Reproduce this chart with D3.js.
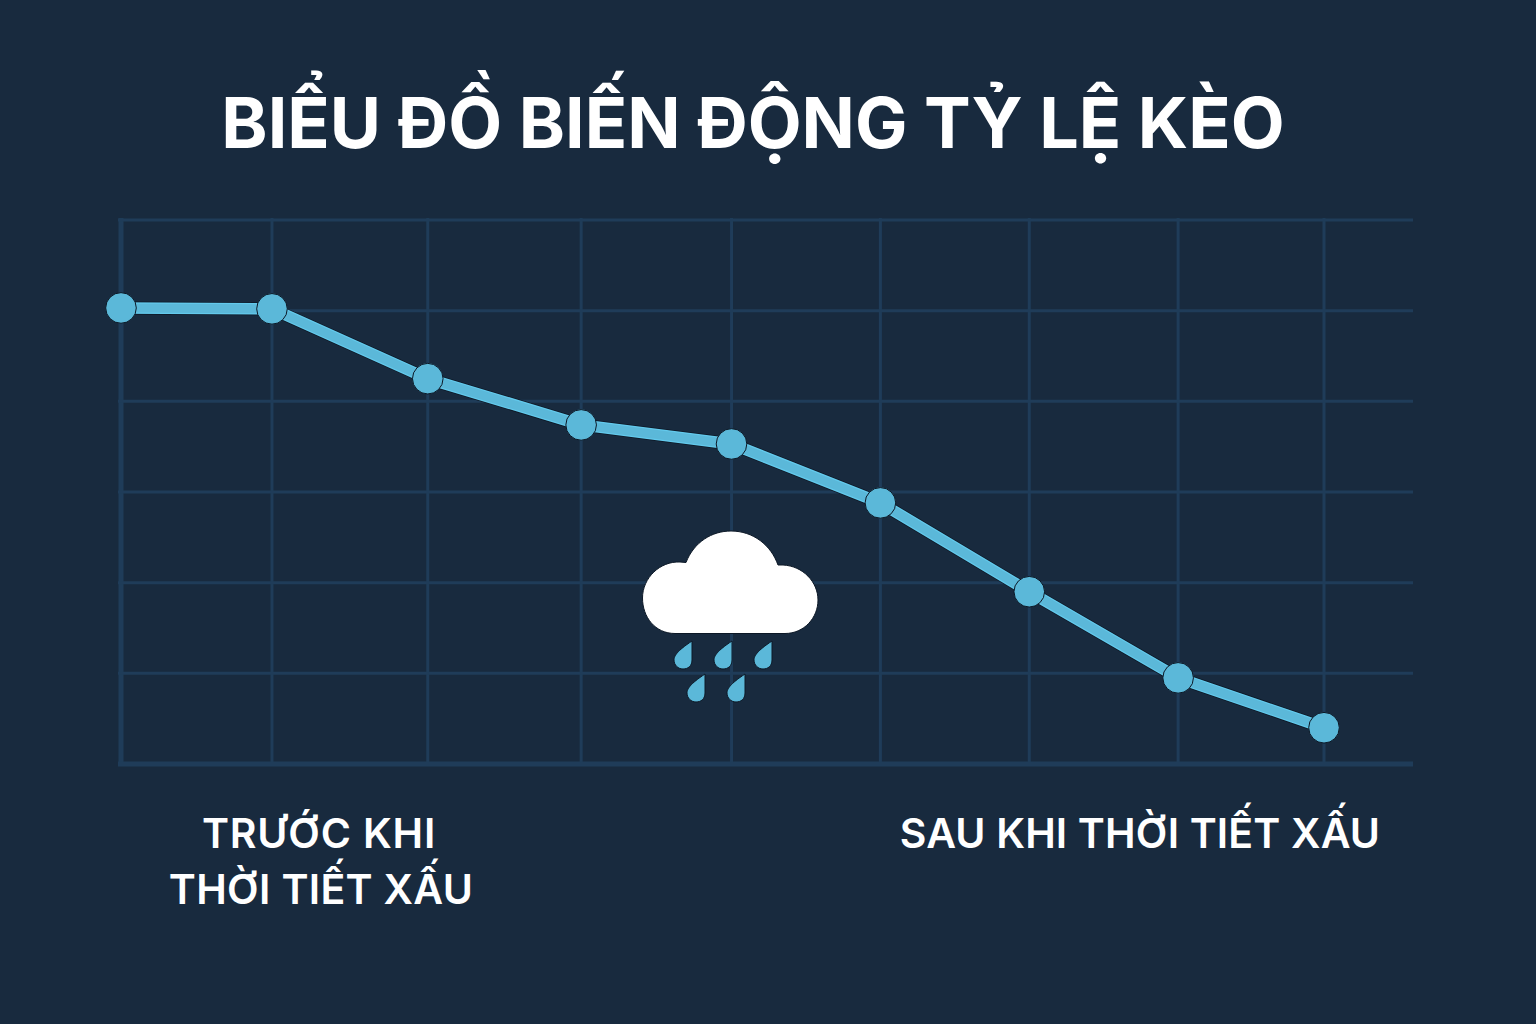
<!DOCTYPE html>
<html>
<head>
<meta charset="utf-8">
<script src="https://cdn.jsdelivr.net/npm/d3@7"></script>
<style>
html, body { margin: 0; background: #182a3e; }
svg { display: block; }
text { font-family: Inter, "Noto Sans", sans-serif; fill: #fff; }
</style>
</head>
<body>
<script>
const w = 1536, h = 1024

const title = "BIỂU ĐỒ BIẾN ĐỘNG TỶ LỆ KÈO"
const beforeLabel = ["TRƯỚC KHI", "THỜI TIẾT XẤU"]
const afterLabel = ["SAU KHI THỜI TIẾT XẤU"]

// the vertical grid is not quite even
const steps = [0, 1.004, 2.04, 3.06, 4.06, 5.05, 6.04, 7.03, 8]
const odds = [5.03, 5.02, 4.25, 3.74, 3.53, 2.88, 1.90, 0.95, 0.40]
const levels = [0, 1, 2, 3, 4, 5, 6]

const bg = "#182a3e", gridC = "#1f3c59", lineC = "#5bb8d9", edgeC = "#63c9ec", darkC = "#0c1826"

const x = d3.scaleLinear().domain([0, 8]).range([121, 1324])
const y = d3.scaleLinear().domain([0, 6]).range([764, 220])

const svg = d3.select("body").append("svg").attr("width", w).attr("height", h)
svg.append("rect").attr("width", w).attr("height", h).attr("fill", bg)

// grid
const grid = svg.append("g").attr("stroke", gridC).attr("fill", "none")
grid.selectAll("line.v").data(steps).join("line").attr("class", "v")
    .attr("x1", d => x(d)).attr("x2", d => x(d))
    .attr("y1", y(6) - 2).attr("y2", y(0))
    .attr("stroke-width", (d, i) => i === 0 ? 5 : 3)
grid.selectAll("line.h").data(levels).join("line").attr("class", "h")
    .attr("x1", 118).attr("x2", 1413)
    .attr("y1", d => y(d)).attr("y2", d => y(d))
    .attr("stroke-width", d => d === 0 ? 5 : 3)

// line with its thin light edge and dark outline
const pts = steps.map((s, i) => [x(s), y(odds[i])])
const lineD = d3.line()(pts)
const stroke = (c, sw) => svg.append("path").attr("d", lineD).attr("fill", "none")
    .attr("stroke", c).attr("stroke-width", sw).attr("stroke-linejoin", "round")
stroke(darkC, 13)
stroke(edgeC, 11.5)
stroke(lineC, 9)

svg.selectAll("circle.pt").data(pts).join("circle").attr("class", "pt")
    .attr("cx", d => d[0]).attr("cy", d => d[1]).attr("r", 15.3)
    .attr("fill", lineC).attr("stroke", darkC).attr("stroke-width", 1)

// cloud icon
const cloud = d3.path()
cloud.moveTo(675, 633.5)
cloud.bezierCurveTo(655, 633.5, 642.5, 617, 642.5, 598)
cloud.bezierCurveTo(642.5, 578, 660, 561, 680, 562)
cloud.lineTo(686, 562.5)
cloud.bezierCurveTo(694, 542, 712, 531, 731, 531)
cloud.bezierCurveTo(753, 531, 771, 545, 778, 565)
cloud.lineTo(783, 565)
cloud.bezierCurveTo(803, 566, 818, 582, 818, 600)
cloud.bezierCurveTo(818, 618, 804, 633.5, 785, 633.5)
cloud.closePath()
svg.append("path").attr("d", cloud.toString()).attr("fill", "#fff").attr("stroke", darkC).attr("stroke-width", 1)

const drops = [[683, 641], [723, 641], [763, 641], [696, 674], [736, 674]]
svg.selectAll("path.drop").data(drops).join("path").attr("class", "drop")
    .attr("transform", d => `translate(${d[0]},${d[1]})`)
    .attr("d", "M9,0 L9,19 C9,25 5,28 0,28 C-5,28 -9,24 -9,19 C-9,15 -6,10 9,0 Z")
    .attr("fill", lineC).attr("stroke", darkC).attr("stroke-width", 1)

// texts
svg.append("text").attr("x", 753).attr("y", 147.5).attr("text-anchor", "middle")
    .attr("font-size", 70).attr("font-weight", 700).text(title)

svg.selectAll("text.before").data(beforeLabel).join("text").attr("class", "before")
    .attr("x", (d, i) => i === 0 ? 319 : 321).attr("y", (d, i) => 848 + i * 56).attr("text-anchor", "middle")
    .attr("font-size", 41).attr("font-weight", 600)
    .attr("letter-spacing", (d, i) => i === 0 ? 0.8 : 0.3).text(d => d)
svg.selectAll("text.after").data(afterLabel).join("text").attr("class", "after")
    .attr("x", 1140).attr("y", 848).attr("text-anchor", "middle")
    .attr("font-size", 41).attr("font-weight", 600).attr("letter-spacing", 0.15).text(d => d)
</script>
</body>
</html>
